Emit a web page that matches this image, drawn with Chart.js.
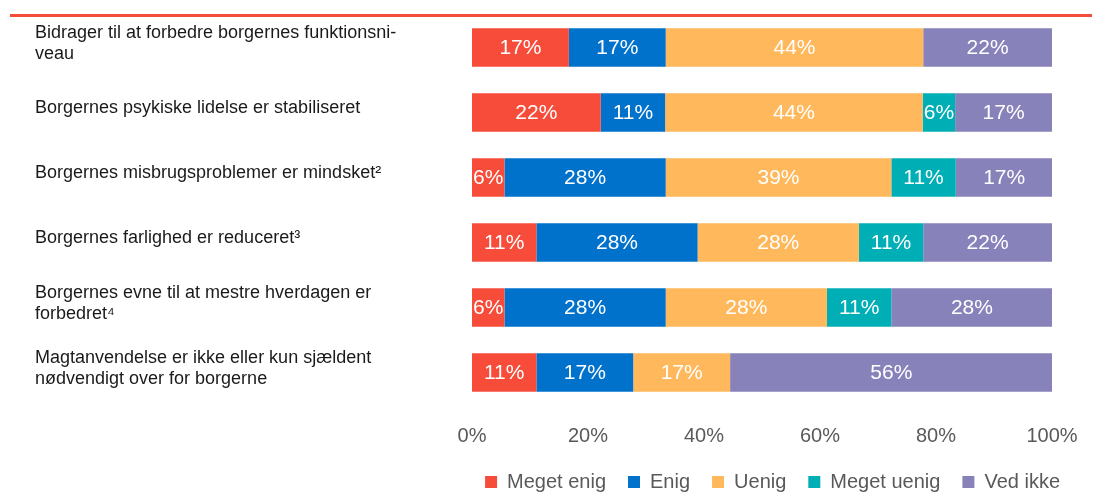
<!DOCTYPE html>
<html>
<head>
<meta charset="utf-8">
<script src="https://cdn.jsdelivr.net/npm/chart.js@4"></script>
<style>
  html, body { margin: 0; padding: 0; background: #fff; }
  #wrap { position: relative; width: 1105px; height: 504px; }
  #topline { position: absolute; left: 10px; top: 14px; width: 1082px; height: 3px; background: #F84C3B; }
</style>
</head>
<body>
<div id="wrap">
  <div id="topline"></div>
  <canvas id="chart" width="1105" height="504"></canvas>
</div>
<script>
const categories = [
    ['Bidrager til at forbedre borgernes funktionsni-', 'veau'],
    'Borgernes psykiske lidelse er stabiliseret',
    'Borgernes misbrugsproblemer er mindsket²',
    'Borgernes farlighed er reduceret³',
    ['Borgernes evne til at mestre hverdagen er', 'forbedret⁴'],
    ['Magtanvendelse er ikke eller kun sjældent', 'nødvendigt over for borgerne']
];

const seriesNames = ['Meget enig', 'Enig', 'Uenig', 'Meget uenig', 'Ved ikke'];
const megetEnig  = [16.7, 22.2, 5.6, 11.1, 5.6, 11.1];
const enig       = [16.7, 11.1, 27.8, 27.8, 27.8, 16.7];
const uenig      = [44.4, 44.4, 38.9, 27.8, 27.8, 16.7];
const megetUenig = [0, 5.6, 11.1, 11.1, 11.1, 0];
const vedIkke    = [22.2, 16.7, 16.7, 22.2, 27.8, 55.6];
const xTicks = [0, 20, 40, 60, 80, 100];

const colors = ['#F84C3B', '#0072CC', '#FFB85B', '#00AEB5', '#8882BA'];
const values = [megetEnig, enig, uenig, megetUenig, vedIkke];

// skriver procenttal midt i hver bar
const barLabels = {
    id: 'barLabels',
    afterDatasetsDraw(chart) {
        const ctx = chart.ctx;
        ctx.save();
        ctx.font = '21px "Liberation Sans", Arial, sans-serif';
        ctx.fillStyle = '#ffffff';
        ctx.textAlign = 'center';
        ctx.textBaseline = 'middle';
        chart.data.datasets.forEach((ds, i) => {
            const meta = chart.getDatasetMeta(i);
            meta.data.forEach((bar, j) => {
                const v = ds.data[j];
                if (!v) return;
                ctx.fillText(Math.round(v) + '%', (bar.x + bar.base) / 2, bar.y + 1);
            });
        });
        ctx.restore();
    }
};

new Chart(document.getElementById('chart'), {
    type: 'bar',
    data: {
        labels: categories,
        datasets: seriesNames.map((name, i) => ({
            label: name,
            data: values[i],
            backgroundColor: colors[i],
            borderWidth: 0,
            categoryPercentage: 1,
            barPercentage: 0.59
        }))
    },
    options: {
        indexAxis: 'y',
        responsive: false,
        animation: false,
        layout: { padding: { left: 35, right: 23, top: 15, bottom: 2 } },
        scales: {
            x: {
                stacked: true,
                min: 0,
                max: 100,
                afterBuildTicks: axis => { axis.ticks = xTicks.map(v => ({ value: v })); },
                afterFit: axis => { axis.height = 45; },
                grid: { display: false },
                border: { display: false },
                ticks: {
                    padding: 11,
                    color: '#595959',
                    font: { family: '"Liberation Sans", Arial, sans-serif', size: 20 },
                    callback: v => v + '%'
                }
            },
            y: {
                stacked: true,
                afterFit: axis => {
                    axis.width = 437;
                    axis.paddingTop = 0;
                    axis.paddingBottom = 0;
                },
                grid: { display: false },
                border: { display: false },
                ticks: {
                    crossAlign: 'far',
                    labelOffset: -4,
                    color: '#1a1a1a',
                    font: { family: '"Liberation Sans", Arial, sans-serif', size: 18, lineHeight: 1.17 }
                }
            },
            // tom akse til højre, giver plads så forklaringen kan gå længere ud end plotområdet
            yRight: {
                type: 'linear',
                position: 'right',
                afterFit: axis => {
                    axis.width = 30;
                    axis.paddingTop = 0;
                    axis.paddingBottom = 0;
                },
                grid: { display: false },
                border: { display: false },
                ticks: { display: false }
            }
        },
        plugins: {
            legend: {
                position: 'bottom',
                align: 'end',
                labels: {
                    boxWidth: 12,
                    boxHeight: 12,
                    padding: 22,
                    color: '#595959',
                    font: { family: '"Liberation Sans", Arial, sans-serif', size: 20 }
                }
            },
            tooltip: { enabled: false }
        }
    },
    plugins: [barLabels]
});
</script>
</body>
</html>
